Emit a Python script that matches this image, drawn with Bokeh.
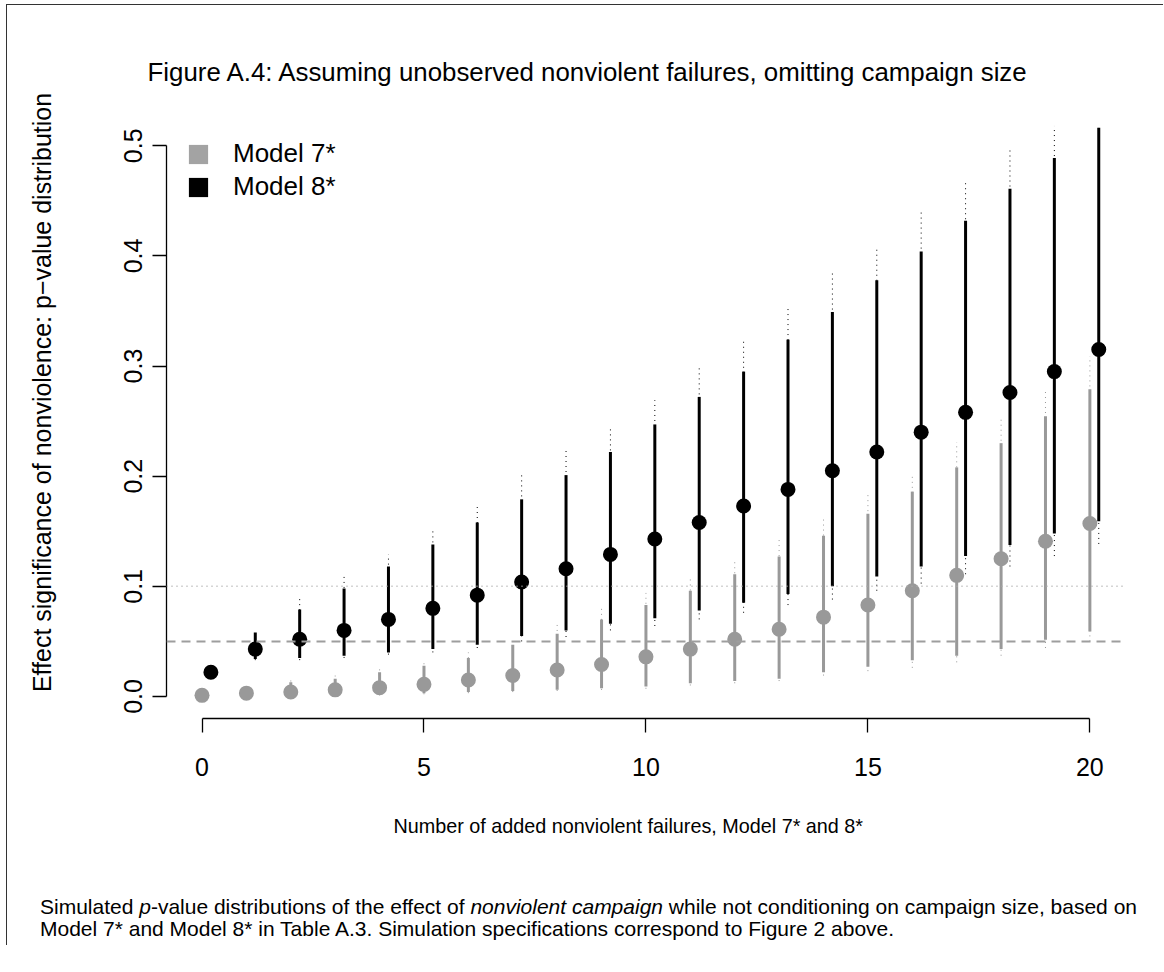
from bokeh.plotting import figure
from bokeh.models import (Range1d, FixedTicker, Span, Legend, LegendItem, Title,
                          ColumnDataSource, Div)
from bokeh.layouts import column
from bokeh.transform import dodge
from bokeh.embed import file_html
from bokeh.resources import INLINE

# ---------------- data ----------------
added_failures = list(range(21))

# Model 7* (grey)
m7_mid = [0.001, 0.003, 0.004, 0.006, 0.008, 0.011, 0.015, 0.019, 0.024, 0.029, 0.036,
          0.043, 0.052, 0.061, 0.072, 0.083, 0.096, 0.110, 0.125, 0.141, 0.157]
m7_lo = [0.000, 0.000, 0.001, 0.001, 0.002, 0.003, 0.004, 0.005, 0.006, 0.0075, 0.009,
         0.012, 0.014, 0.016, 0.022, 0.027, 0.033, 0.037, 0.043, 0.0515, 0.059]
m7_hi = [0.002, 0.005, 0.013, 0.016, 0.022, 0.028, 0.035, 0.047, 0.057, 0.070, 0.083,
         0.096, 0.111, 0.127, 0.146, 0.166, 0.186, 0.208, 0.230, 0.2545, 0.279]
m7_lo_out = [0.000, 0.000, 0.000, 0.000, 0.001, 0.002, 0.003, 0.004, 0.005, 0.006, 0.007,
             0.010, 0.012, 0.014, 0.019, 0.023, 0.026, 0.031, 0.037, 0.044, 0.050]
m7_hi_out = [0.003, 0.006, 0.015, 0.019, 0.025, 0.032, 0.040, 0.053, 0.067, 0.080, 0.094,
             0.107, 0.122, 0.143, 0.164, 0.185, 0.202, 0.231, 0.253, 0.279, 0.309]

# Model 8* (black)
m8_mid = [0.022, 0.043, 0.052, 0.060, 0.070, 0.080, 0.092, 0.104, 0.116, 0.129, 0.143,
          0.158, 0.173, 0.188, 0.205, 0.222, 0.240, 0.258, 0.276, 0.295, 0.315]
m8_lo = [0.021, 0.034, 0.035, 0.037, 0.040, 0.043, 0.047, 0.055, 0.060, 0.066, 0.071,
         0.078, 0.085, 0.093, 0.100, 0.109, 0.118, 0.1275, 0.1375, 0.148, 0.159]
m8_hi = [0.023, 0.058, 0.079, 0.098, 0.118, 0.138, 0.158, 0.179, 0.201, 0.222, 0.247,
         0.272, 0.295, 0.324, 0.349, 0.378, 0.404, 0.432, 0.461, 0.489, 0.5165]
m8_lo_out = [0.021, 0.033, 0.033, 0.035, 0.038, 0.040, 0.044, 0.050, 0.054, 0.060, 0.064,
             0.070, 0.076, 0.083, 0.088, 0.096, 0.1025, 0.111, 0.118, 0.1275, 0.1385]
m8_hi_out = [0.023, 0.059, 0.089, 0.109, 0.129, 0.151, 0.172, 0.201, 0.223, 0.246, 0.269,
             0.299, 0.324, 0.354, 0.384, 0.409, 0.440, 0.466, 0.497, 0.518, 0.5165]

reference_levels_dotted = [0.1]
reference_levels_dashed = [0.05]

x_ticks = [0, 5, 10, 15, 20]
y_ticks = [0.0, 0.1, 0.2, 0.3, 0.4, 0.5]
y_tick_labels = ["0.0", "0.1", "0.2", "0.3", "0.4", "0.5"]
series_names = ["Model 7*", "Model 8*"]

title_text = "Figure A.4: Assuming unobserved nonviolent failures, omitting campaign size"
x_label = "Number of added nonviolent failures, Model 7* and 8*"
y_label = "Effect significance of nonviolence: p\u2212value distribution"
caption_html = ("Simulated <i>p</i>-value distributions of the effect of <i>nonviolent campaign</i> "
                "while not conditioning on campaign size, based on<br>"
                "Model 7* and Model 8* in Table A.3. Simulation specifications correspond to Figure 2 above.")

# ---------------- style ----------------
FONT = "Liberation Sans"
GREY = "#999999"
GREY_LEG = "#a3a3a3"
BLACK = "#000000"
TXT = "25px"

W = 1156
FIG_H = 870
FRAME_TOP = 61
FRAME_BOTTOM = 713

p = figure(width=W, height=FIG_H, x_range=Range1d(-0.8, 20.78), y_range=Range1d(-0.02, 0.572),
           output_backend="svg", toolbar_location=None,
           min_border_left=159, min_border_right=39, min_border_top=FRAME_TOP,
           min_border_bottom=FIG_H - FRAME_BOTTOM)
p.outline_line_color = None
p.xgrid.visible = False
p.ygrid.visible = False
p.background_fill_color = "white"
p.border_fill_color = "white"

# title (drawn just below the top border, over the upper part of the plot area)
p.title.text = title_text
p.title.text_font = FONT
p.title.text_font_size = "25.85px"
p.title.text_font_style = "normal"
p.title.text_color = "black"
p.title.align = "left"
p.title.offset = -19
p.title.vertical_align = "bottom"
p.title.standoff = -38

src7 = ColumnDataSource(dict(x=added_failures, mid=m7_mid, lo=m7_lo, hi=m7_hi,
                             lo_out=m7_lo_out, hi_out=m7_hi_out))
src8 = ColumnDataSource(dict(x=added_failures, mid=m8_mid, lo=m8_lo, hi=m8_hi,
                             lo_out=m8_lo_out, hi_out=m8_hi_out))

for lv in reference_levels_dotted:
    p.add_layout(Span(location=lv, dimension="width", line_color="#aaaaaa",
                      line_width=1.5, line_dash="1 4"))
for lv in reference_levels_dashed:
    p.add_layout(Span(location=lv, dimension="width", line_color="#9e9e9e",
                      line_width=2, line_dash="9 6"))

xd = dodge("x", 0.2)

# Model 7*
p.segment(x0="x", y0="lo_out", x1="x", y1="hi_out", source=src7,
          line_color=GREY, line_width=1, line_dash="1 4")
p.segment(x0="x", y0="lo", x1="x", y1="hi", source=src7, line_color=GREY, line_width=3)
p.scatter(x="x", y="mid", source=src7, size=15, fill_color=GREY, line_color=None)

# Model 8*
p.segment(x0=xd, y0="lo_out", x1=xd, y1="hi_out", source=src8,
          line_color=BLACK, line_width=1, line_dash="1 4")
p.segment(x0=xd, y0="lo", x1=xd, y1="hi", source=src8, line_color=BLACK, line_width=3)
p.scatter(x=xd, y="mid", source=src8, size=15, fill_color=BLACK, line_color=None)

# legend keys: zero-area quads (invisible in the plot, squares in the legend)
r7leg = p.quad(left="x", right="x", bottom="mid", top="mid", source=src7,
               fill_color=GREY_LEG, line_color=None)
r8leg = p.quad(left=xd, right=xd, bottom="mid", top="mid", source=src8,
               fill_color=BLACK, line_color=None)
legend = Legend(items=[LegendItem(label=series_names[0], renderers=[r7leg], index=0),
                       LegendItem(label=series_names[1], renderers=[r8leg], index=0)],
                location=(20, 516), margin=0, padding=0, glyph_width=24, glyph_height=24,
                label_standoff=23, spacing=2, label_text_font=FONT,
                label_text_font_size="26px", label_text_color="black",
                border_line_color=None, background_fill_alpha=0)
p.add_layout(legend)

# axes
for ax in (p.xaxis[0], p.yaxis[0]):
    ax.axis_line_color = "black"
    ax.axis_line_width = 1.3
    ax.major_tick_line_color = "black"
    ax.major_tick_line_width = 1.3
    ax.major_tick_out = 14
    ax.major_tick_in = 0
    ax.minor_tick_line_color = None
    ax.major_label_text_font = FONT
    ax.major_label_text_font_size = TXT
    ax.major_label_text_color = "black"
    ax.axis_label_text_font = FONT
    ax.axis_label_text_font_size = TXT
    ax.axis_label_text_font_style = "normal"
    ax.axis_label_text_color = "black"

p.xaxis.ticker = FixedTicker(ticks=x_ticks)
p.xaxis.bounds = (x_ticks[0], x_ticks[-1])
p.xaxis.major_label_standoff = 25

# x-axis title, placed below the axis
p.add_layout(Title(text=x_label, align="left", offset=227, vertical_align="top",
                   standoff=72, text_font=FONT, text_font_size="19.8px",
                   text_font_style="normal", text_color="black"), "below")

p.yaxis.ticker = FixedTicker(ticks=y_ticks)
p.yaxis.bounds = (y_ticks[0], y_ticks[-1])
p.yaxis.major_label_overrides = {t: s for t, s in zip(y_ticks, y_tick_labels)}
p.yaxis.major_label_orientation = "vertical"
p.yaxis.major_label_standoff = 10
p.yaxis.axis_label = y_label
p.yaxis.axis_label_standoff = 66

caption = Div(text=caption_html, width=W, height=70, margin=(0, 0, 0, 0),
              styles={"font-family": FONT, "font-size": "21px", "line-height": "22px",
                      "padding-left": "33px", "padding-top": "21px", "white-space": "nowrap",
                      "color": "black"})

layout = column(p, caption, margin=(4, 0, 0, 6),
                styles={"border-top": "1px solid #333", "border-left": "1px solid #333"})

open("out.html", "w").write(file_html(layout, INLINE))
